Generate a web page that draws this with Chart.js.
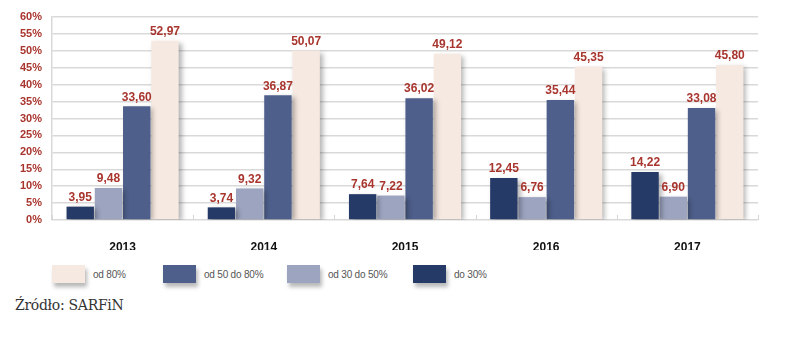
<!DOCTYPE html>
<html>
<head>
<meta charset="utf-8">
<script src="https://cdn.jsdelivr.net/npm/chart.js@4"></script>
<style>
  html,body{margin:0;padding:0;background:#fff;}
  #wrap{position:relative;width:786px;height:337px;overflow:hidden;}
  #cbox{position:absolute;left:0;top:0;width:786px;height:250px;}
  .lg{position:absolute;top:265px;height:18px;display:flex;align-items:center;}
  .lg .sw{width:33px;height:18px;box-shadow:2px 4px 4px rgba(0,0,0,0.28);}
  .lg .tx{margin-left:8px;font:10px "Liberation Sans",Arial,sans-serif;color:#555;letter-spacing:-0.2px;}
  #src{position:absolute;left:15px;top:297px;font:14px "DejaVu Serif",serif;color:#333;letter-spacing:-0.3px;}
</style>
</head>
<body>
<div id="wrap">
  <div id="cbox"><canvas id="c"></canvas></div>
  <div id="legend"></div>
  <div id="src">Źródło: SARFiN</div>
</div>
<script>
const categories = ["2013","2014","2015","2016","2017"];
const seriesNames = ["do 30%","od 30 do 50%","od 50 do 80%","od 80%"];
const do30 = [3.95, 3.74, 7.64, 12.45, 14.22];
const od30do50 = [9.48, 9.32, 7.22, 6.76, 6.90];
const od50do80 = [33.60, 36.87, 36.02, 35.44, 33.08];
const od80 = [52.97, 50.07, 49.12, 45.35, 45.80];
const yTicks = [0,5,10,15,20,25,30,35,40,45,50,55,60];
const legendOrder = [3,2,1,0];

const colors = ["#263a67","#9ca4c0","#4e5f8b","#f6e9e1"];
const seriesData = [do30, od30do50, od50do80, od80];
const labelRed = "#a8352e";
const fontFam = '"Liberation Sans Narrow","Liberation Sans",Arial,sans-serif';

const shadowPlugin = {
  id:'shadow',
  beforeDatasetsDraw(chart){
    const ctx = chart.ctx;
    ctx.save();
    ctx.shadowColor = 'rgba(0,0,0,0.30)';
    ctx.shadowBlur = 5;
    ctx.shadowOffsetX = 3;
    ctx.shadowOffsetY = 2;
  },
  afterDatasetsDraw(chart){
    chart.ctx.restore();
  }
};

const valueLabels = {
  id:'valueLabels',
  afterDatasetsDraw(chart){
    const ctx = chart.ctx;
    ctx.save();
    ctx.fillStyle = labelRed;
    ctx.font = 'bold 12px ' + fontFam;
    ctx.textAlign = 'center';
    ctx.textBaseline = 'bottom';
    chart.data.datasets.forEach((ds, di) => {
      const meta = chart.getDatasetMeta(di);
      meta.data.forEach((bar, i) => {
        const v = ds.data[i];
        ctx.fillText(v.toFixed(2).replace('.', ','), bar.x, bar.y - 3);
      });
    });
    ctx.restore();
  }
};

const catTicks = {
  id:'catTicks',
  afterDraw(chart){
    const ctx = chart.ctx, a = chart.chartArea;
    const n = categories.length, w = (a.right - a.left)/n;
    ctx.save();
    ctx.strokeStyle = '#d6d6d6';
    ctx.lineWidth = 1;
    for(let i=0;i<=n;i++){
      const x = Math.round(a.left + w*i) + 0.5;
      ctx.beginPath(); ctx.moveTo(x, a.bottom - 5); ctx.lineTo(x, a.bottom); ctx.stroke();
    }
    ctx.restore();
  }
};

new Chart(document.getElementById('c'), {
  type:'bar',
  data:{
    labels: categories,
    datasets: seriesNames.map((n, i) => ({
      label: n,
      data: seriesData[i],
      backgroundColor: colors[i],
      borderWidth: 0,
      categoryPercentage: 0.8,
      barPercentage: 0.97
    }))
  },
  options:{
    responsive:true,
    maintainAspectRatio:false,
    animation:false,
    devicePixelRatio:1,
    layout:{padding:{left:0,right:28,top:17,bottom:0}},
    plugins:{legend:{display:false},tooltip:{enabled:false}},
    scales:{
      x:{
        grid:{display:false},
        border:{display:false},
        ticks:{
          color:'#111',
          padding:12,
          font:{family:fontFam,size:12,weight:'bold'}
        },
        afterFit(s){ s.height = 30; }
      },
      y:{
        min:0,max:60,
        afterBuildTicks(s){ s.ticks = yTicks.map(v=>({value:v})); },
        grid:{color:'#d9d9d9',lineWidth:1.5,drawTicks:false},
        border:{display:true,color:'#d9d9d9',width:1.5},
        ticks:{
          autoSkip:false,
          color:labelRed,
          padding:10,
          font:{family:fontFam,size:11,weight:'bold'},
          callback:v=>v+'%'
        },
        afterFit(s){ s.width = 52; }
      }
    }
  },
  plugins:[shadowPlugin, valueLabels, catTicks]
});

const lefts = [52,163,287,413];
const lg = document.getElementById('legend');
legendOrder.forEach((si, k) => {
  const d = document.createElement('div');
  d.className = 'lg';
  d.style.left = lefts[k] + 'px';
  d.innerHTML = '<div class="sw" style="background:'+colors[si]+'"></div><span class="tx">'+seriesNames[si]+'</span>';
  lg.appendChild(d);
});
</script>
</body>
</html>
